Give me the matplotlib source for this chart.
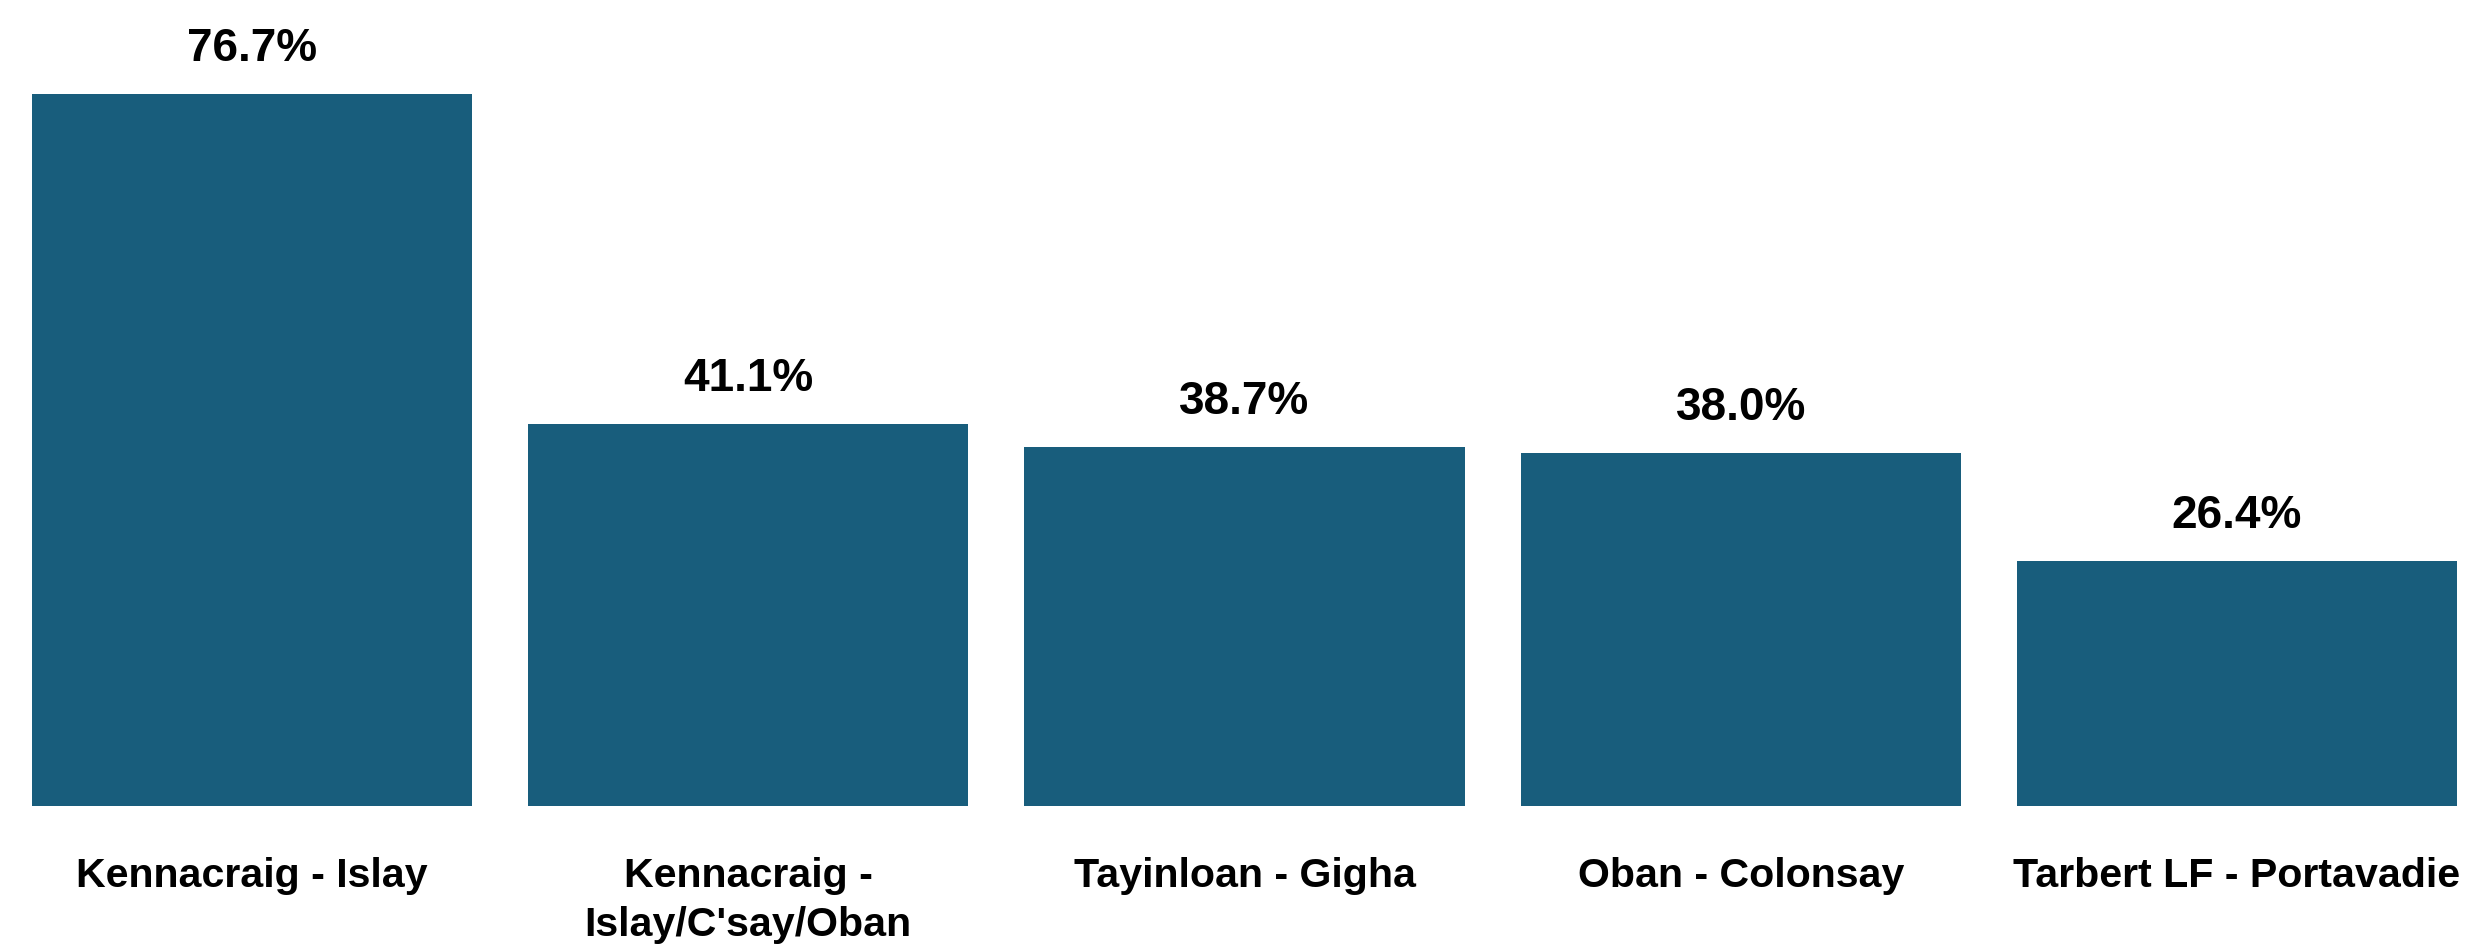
import matplotlib.pyplot as plt
import numpy as np

plt.rcParams["font.family"] = "Liberation Sans"
plt.rcParams["font.weight"] = "bold"

routes = ['Kennacraig - Islay',
          'Kennacraig -\nIslay/C\'say/Oban',
          'Tayinloan - Gigha',
          'Oban - Colonsay',
          'Tarbert LF - Portavadie']
values = [76.7, 41.1, 38.7, 38.0, 26.4]

bar_color = '#185d7c'

fig = plt.figure(figsize=(24.84, 9.5), dpi=100)
ax = fig.add_axes([32 / 2484, 1 - 806 / 950, 2425 / 2484, 712 / 950])

x = np.arange(len(routes))
ax.bar(x, values, width=0.887, color=bar_color)
ax.margins(x=0, y=0)
ax.set_ylim(0, max(values))

# value labels above bars
for xi, v in zip(x, values):
    ax.annotate(f'{v:.1f}%', xy=(xi, v), xytext=(0, 23.8), textcoords='offset points',
                ha='center', va='baseline', fontsize=33, fontweight='bold',
                annotation_clip=False)

# route names under bars, one line at a time
for xi, name in zip(x, routes):
    for k, line in enumerate(name.split('\n')):
        ax.annotate(line, xy=(xi, 0), xytext=(0, -58.3 - k * 35.3),
                    textcoords='offset points', ha='center', va='baseline',
                    fontsize=29.6, fontweight='bold', annotation_clip=False)

ax.set_xticks([])
ax.set_yticks([])
for s in ax.spines.values():
    s.set_visible(False)

plt.savefig('out.png', dpi=100)
